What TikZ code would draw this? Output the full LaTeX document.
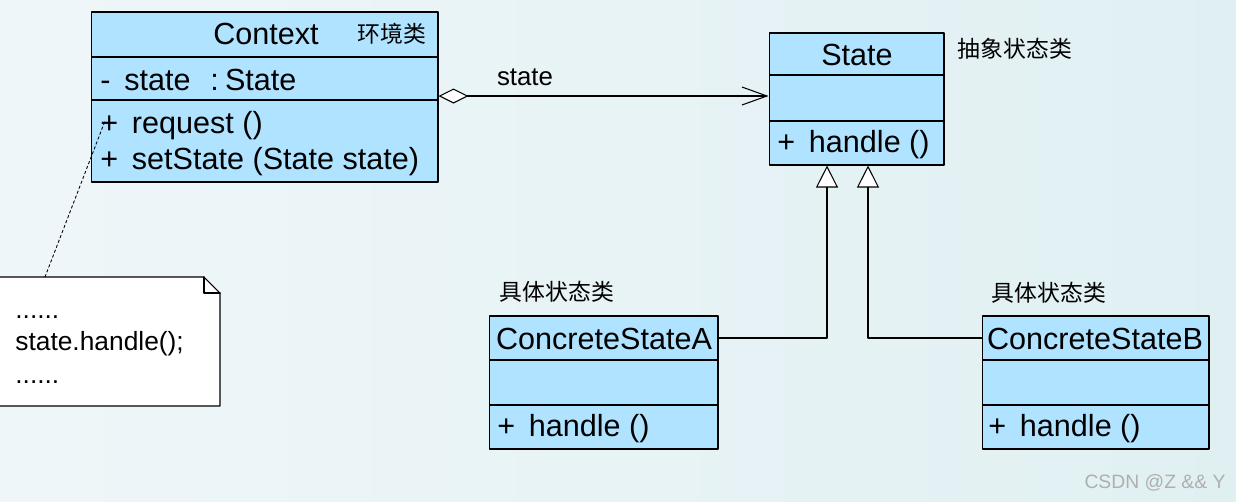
\documentclass[tikz,border=0pt]{standalone}
\usepackage{fontspec}
\setmainfont{Liberation Sans}
\newfontfamily\cjk{Noto Sans CJK SC}
\usetikzlibrary{arrows.meta}
\usetikzlibrary{calc}
\definecolor{umlblue}{RGB}{176,227,255}
\definecolor{bgleft}{RGB}{239,246,249}
\definecolor{bgright}{RGB}{224,240,242}
\definecolor{markgray}{RGB}{175,175,175}

\begin{document}
\begin{tikzpicture}[x=0.02cm,y=-0.02cm,line cap=round,line join=round,
  box/.style={draw=black,fill=umlblue,line width=0.6pt,inner sep=0pt},
  umltxt/.style={inner sep=0pt,font=\fontsize{17.4}{20}\selectfont},
  notetxt/.style={inner sep=0pt,anchor=west,font=\fontsize{15}{18}\selectfont},
  cjktxt/.style={inner sep=0pt,font=\cjk\fontsize{13}{15}\selectfont},
  agg/.style={line width=0.6pt,{Diamond[fill=white,length=0.6cm,width=0.3cm]}-{Straight Barb[length=0.5cm,width=0.36cm]}},
  inh/.style={line width=0.6pt,-{Triangle[fill=white,length=0.44cm,width=0.44cm]}},
  noteline/.style={line width=0.5pt,dash pattern=on 1.5pt off 1.5pt}]
\useasboundingbox (0,0) rectangle (1236,501);
\shade[left color=bgleft,right color=bgright] (0,0) rectangle (1236,501);
% Context
\node[box,minimum width=6.94cm,minimum height=0.9cm] (ctxhead) at (264.5,34.5) {};
\node[box,minimum width=6.94cm,minimum height=0.86cm] (ctxattr) at (264.5,78.5) {};
\node[box,minimum width=6.94cm,minimum height=1.64cm] (ctxop) at (264.5,141) {};
\node[umltxt] (ctxname) at (266,34) {Context};
\node[cjktxt] (ctxcn) at (392,34) {环境类};
\node[umltxt,anchor=west] (ctxstate) at (100,80) {-\hspace{0.45em}state\hspace{0.65em}:\hspace{0.2em}State};
\node[umltxt,anchor=west] (ctxreq) at (100,126) {+\hspace{0.45em}request ()};
\node[umltxt,anchor=west] (ctxset) at (100,162) {+\hspace{0.45em}setState (State state)};
% State
\node[box,minimum width=3.5cm,minimum height=0.84cm] (sthead) at (856.5,54) {};
\node[box,minimum width=3.5cm,minimum height=0.92cm] (stattr) at (856.5,98) {};
\node[box,minimum width=3.5cm,minimum height=0.88cm] (stop) at (856.5,143) {};
\node[umltxt] (stname) at (857,55) {State};
\node[umltxt,anchor=west] (sthandle) at (777,145) {+\hspace{0.45em}handle ()};
\node[cjktxt] (stcn) at (1015,49) {抽象状态类};
% ConcreteStateA
\node[box,minimum width=4.58cm,minimum height=0.88cm] (ahead) at (603.5,338) {};
\node[box,minimum width=4.58cm,minimum height=0.9cm] (aattr) at (603.5,382.5) {};
\node[box,minimum width=4.58cm,minimum height=0.88cm] (aop) at (603.5,427) {};
\node[umltxt] (aname) at (604,339) {ConcreteStateA};
\node[umltxt,anchor=west] (ahandle) at (497,429) {+\hspace{0.45em}handle ()};
\node[cjktxt] (acn) at (557,292) {具体状态类};
% ConcreteStateB
\node[box,minimum width=4.54cm,minimum height=0.88cm] (bhead) at (1095.5,338) {};
\node[box,minimum width=4.54cm,minimum height=0.9cm] (battr) at (1095.5,382.5) {};
\node[box,minimum width=4.54cm,minimum height=0.88cm] (bop) at (1095.5,427) {};
\node[umltxt] (bname) at (1095,339) {ConcreteStateB};
\node[umltxt,anchor=west] (bhandle) at (988,429) {+\hspace{0.45em}handle ()};
\node[cjktxt] (bcn) at (1049,293) {具体状态类};
% note
\draw[line width=0.6pt,fill=white] (-5,277) -- (204,277) -- (220,293) -- (220,406) -- (-5,406) -- cycle;
\draw[line width=0.6pt] (204,277) -- (204,293) -- (220,293);
\coordinate (notetop) at (45,277);
\node[notetxt] (dots1) at (15,317) {......};
\node[notetxt] (call) at (15,344) {state.handle();};
\node[notetxt] (dots2) at (15,382) {......};
% connectors
\coordinate (aggy) at (0,96);
\draw[agg] (ctxattr.east |- aggy) -- (stattr.west |- aggy);
\node[inner sep=0pt,font=\fontsize{14.7}{17}\selectfont] (agglabel) at (525,77) {state};
\draw[inh] (ahead.east) -| ([xshift=-0.59cm]stop.south);
\draw[inh] (bhead.west) -| ([xshift=0.23cm]stop.south);
\draw[noteline] (notetop) -- ([xshift=0.1cm,yshift=0.1cm]ctxreq.west);
\node[inner sep=0pt,text=markgray,font=\fontsize{11}{13}\selectfont] (mark) at (1155,483) {CSDN @Z \&\& Y};
\end{tikzpicture}
\end{document}
